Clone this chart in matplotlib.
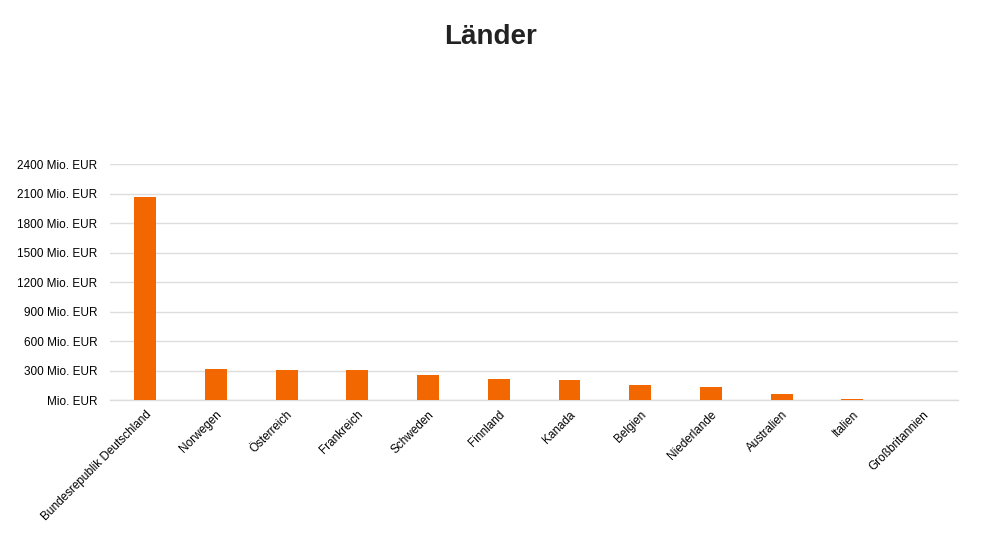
import numpy as np
import matplotlib.pyplot as plt

plt.rcParams['font.family'] = ['Liberation Sans', 'DejaVu Sans']

laender = ['Bundesrepublik Deutschland', 'Norwegen', 'Österreich', 'Frankreich',
           'Schweden', 'Finnland', 'Kanada', 'Belgien', 'Niederlande',
           'Australien', 'Italien', 'Großbritannien']
werte = [2065, 315, 312, 310, 257, 217, 203, 153, 139, 61, 8, 0]
yticks = [0, 300, 600, 900, 1200, 1500, 1800, 2100, 2400]

fig = plt.figure(figsize=(9.81, 5.35), dpi=100)
ax = fig.add_axes([0.112, 0.252, 0.865, 0.441])

x = np.arange(len(laender))
ax.bar(x, werte, width=0.31, color='#f26700', zorder=3)

ax.set_xlim(-0.5, len(laender) - 0.5)
ax.set_ylim(0, 2400)
ax.set_yticks(yticks)
ax.set_yticklabels([('%d Mio. EUR' % v) if v else 'Mio. EUR' for v in yticks], fontsize=8.5)
ax.set_xticks(x)
ax.set_xticklabels(laender, rotation=45, ha='right', rotation_mode='anchor', fontsize=8.5)
ax.grid(axis='y', color='#dddddd', linewidth=1, zorder=0)
ax.axhline(0, color='#dddddd', linewidth=1, zorder=1, clip_on=False)
ax.tick_params(axis='both', length=0)
ax.tick_params(axis='y', pad=9)
ax.tick_params(axis='x', pad=6)
for s in ax.spines.values():
    s.set_visible(False)

fig.text(0.5, 0.930, 'Länder', ha='center', va='center', fontsize=20, fontweight='bold', color='#222222')

fig.savefig('out.png', dpi=100)
